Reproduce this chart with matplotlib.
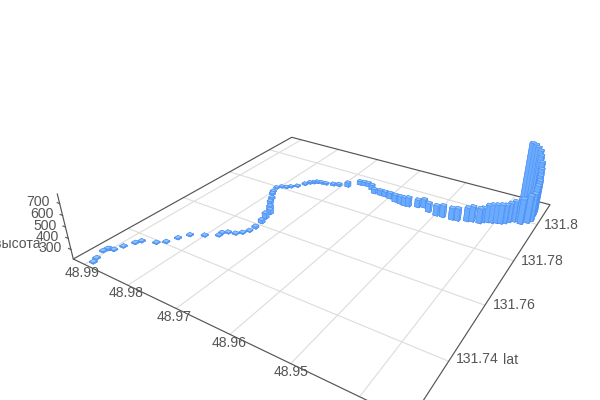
import numpy as np
import matplotlib
matplotlib.use("Agg")
import matplotlib.pyplot as plt
from mpl_toolkits.mplot3d import Axes3D  # noqa: F401

lat = [131.7250,131.7265,131.7294,131.7306,131.7309,131.7312,131.7335,131.7362,131.7376,131.7391,131.7407,131.7436,131.7463,131.7482,131.7502,131.7516,131.7526,131.7532,131.7545,131.7562,131.7583,131.7613,131.7638,131.7663,131.7685,131.7710,131.7732,131.7755,131.7768,131.7793,131.7806,131.7811,131.7821,131.7835,131.7857,131.7872,131.7880,131.7888,131.7891,131.7893,131.7900,131.7906,131.7917,131.7948,131.7951,131.7952,131.7939,131.7923,131.7923,131.7923,131.7920,131.7911,131.7908,131.7905,131.7907,131.7917,131.7925,131.7909,131.7902,131.7904,131.7905,131.7908,131.7919,131.7925,131.7927,131.7937,131.7944,131.7947,131.7953,131.7956,131.7964,131.7976,131.7985,131.7990,131.8014,131.7983,131.7998,131.8014,131.8044,131.8063,131.8080,131.8093,131.8115,131.8118,131.8122,131.8124,131.8123,131.8120]
lon = [48.9893,48.9898,48.9906,48.9905,48.9902,48.9894,48.9889,48.9881,48.9876,48.9852,48.9840,48.9832,48.9822,48.9800,48.9780,48.9781,48.9773,48.9760,48.9752,48.9746,48.9744,48.9746,48.9750,48.9753,48.9764,48.9776,48.9784,48.9794,48.9799,48.9803,48.9797,48.9788,48.9782,48.9773,48.9765,48.9760,48.9754,48.9749,48.9741,48.9731,48.9717,48.9706,48.9690,48.9674,48.9666,48.9657,48.9644,48.9633,48.9620,48.9610,48.9598,48.9584,48.9572,48.9563,48.9555,48.9539,48.9529,48.9515,48.9498,48.9486,48.9469,48.9459,48.9444,48.9436,48.9423,48.9419,48.9412,48.9405,48.9398,48.9391,48.9385,48.9380,48.9374,48.9365,48.9357,48.9361,48.9352,48.9348,48.9350,48.9351,48.9354,48.9356,48.9360,48.9364,48.9367,48.9372,48.9377,48.9383]
height = [222,222,222,222,222,222,222,222,222,222,222,222,222,222,222,222,222,222,222,222,232,245,266,259,246,240,233,230,227,223,223,223,223,223,227,227,227,227,227,227,230,234,255,248,248,248,262,255,261,261,268,281,288,294,301,287,294,300,312,325,325,331,344,357,356,350,376,388,388,395,388,395,408,433,435,452,474,475,507,528,549,593,624,679,718,741,762,774]
lat_ticks = [131.74, 131.76, 131.78, 131.8]
lon_ticks = [48.99, 48.98, 48.97, 48.96, 48.95, 48.94]
z_ticks = [300, 400, 500, 600, 700]
lat_lim = (131.72323, 131.8128)
lon_lim = (48.93343, 48.99274)
z_lim = (213, 780)

# Camera: where the floor corners and the height axis fall on the canvas
corners = [(410, 421), (550, 204.7), (291.7, 137.3), (73.3, 259)]
z_top_y = 194
z_vanish = np.array([328.5, 1296, 1.0])


def camera():
    A = []
    for (s, t), (u, v) in zip([(0, 0), (1, 0), (1, 1), (0, 1)], corners):
        A.append([s, t, 1, 0, 0, 0, -u * s, -u * t, -u])
        A.append([0, 0, 0, s, t, 1, -v * s, -v * t, -v])
    H = np.linalg.svd(np.array(A))[2][-1].reshape(3, 3)
    H = H / H[2, 2]
    h = H @ np.array([0, 1, 1.0])
    c3 = z_vanish * (h[1] - z_top_y * h[2]) / (z_top_y - z_vanish[1])
    P = np.column_stack([H[:, 0], H[:, 1], c3, H[:, 2]])
    M = np.array([P[0], P[1], [0, 0, 0, -1.0], P[2]])
    sx = lat_lim[1] - lat_lim[0]
    sy = lon_lim[1] - lon_lim[0]
    sz = z_lim[1] - z_lim[0]
    U = np.array([[1 / sx, 0, 0, -lat_lim[0] / sx],
                  [0, 1 / sy, 0, -lon_lim[0] / sy],
                  [0, 0, 1 / sz, -z_lim[0] / sz],
                  [0, 0, 0, 1.0]])
    return M @ U


plt.rcParams['font.family'] = ['Liberation Sans', 'DejaVu Sans']
fig = plt.figure(figsize=(6, 4), dpi=100)
ax = fig.add_axes([0, 0, 1, 1], projection='3d', computed_zorder=False)
ax.set_axis_off()
ax.set_proj_type('ortho')
M = camera()
ax.get_proj = lambda: M
ax.apply_aspect = lambda position=None: None
ax.viewLim.intervalx = (0, 600)
ax.viewLim.intervaly = (400, 0)

GRID = '#dcdcdc'
EDGE = '#555555'
z0 = z_lim[0]
for v in lat_ticks:
    ax.plot([v, v], lon_lim, [z0, z0], color=GRID, lw=0.8, zorder=1)
for v in lon_ticks:
    ax.plot(lat_lim, [v, v], [z0, z0], color=GRID, lw=0.8, zorder=1)
a0, a1 = lat_lim
o0, o1 = lon_lim
ax.plot([a0, a1, a1, a0, a0], [o0, o0, o1, o1, o0], [z0] * 5, color=EDGE, lw=0.85, zorder=2)
ax.plot([a0, a0], [o1, o1], z_lim, color=EDGE, lw=0.85, zorder=2)
for v in z_ticks:
    ax.plot([a0, a0], [o1, o1 + 0.0006], [v, v], color=EDGE, lw=0.8, zorder=2)

dx, dy = 0.0012, 0.0009
x = np.array(lat) - dx / 2
y = np.array(lon) - dy / 2
dz = np.array(height) - z0
face = ['#5f9ff5', '#8cc3ff', '#6aabff', '#6aabff', '#6aabff', '#6aabff']
ax.bar3d(x, y, np.full(len(x), z0), dx, dy, dz, color=face * len(x), shade=False,
         edgecolor='#4a8df0', linewidth=0.35, zorder=5)

TXT = '#555555'
labels = [("48.99", 82, 272.7), ("48.98", 125.7, 293.3), ("48.97", 174.3, 317.3),
          ("48.96", 229.3, 343.3), ("48.95", 290.7, 372.3), ("131.8", 561.7, 225),
          ("131.78", 542.3, 261.3), ("131.76", 514, 305), ("131.74", 477.7, 359.3),
          ("lat", 511, 360), ("700", 38.3, 202.3), ("600", 41.7, 214.3),
          ("500", 45, 226), ("400", 47.7, 237.3), ("300", 50, 248.3)]
for s, px, py in labels:
    fig.text(px / 600, 1 - py / 400, s, ha='center', va='center', color=TXT, fontsize=10.1)
fig.text(41 / 600, 1 - 244 / 400, "высота", ha='right', va='center', color=TXT, fontsize=10.1)

fig.savefig("out.png", dpi=100)
